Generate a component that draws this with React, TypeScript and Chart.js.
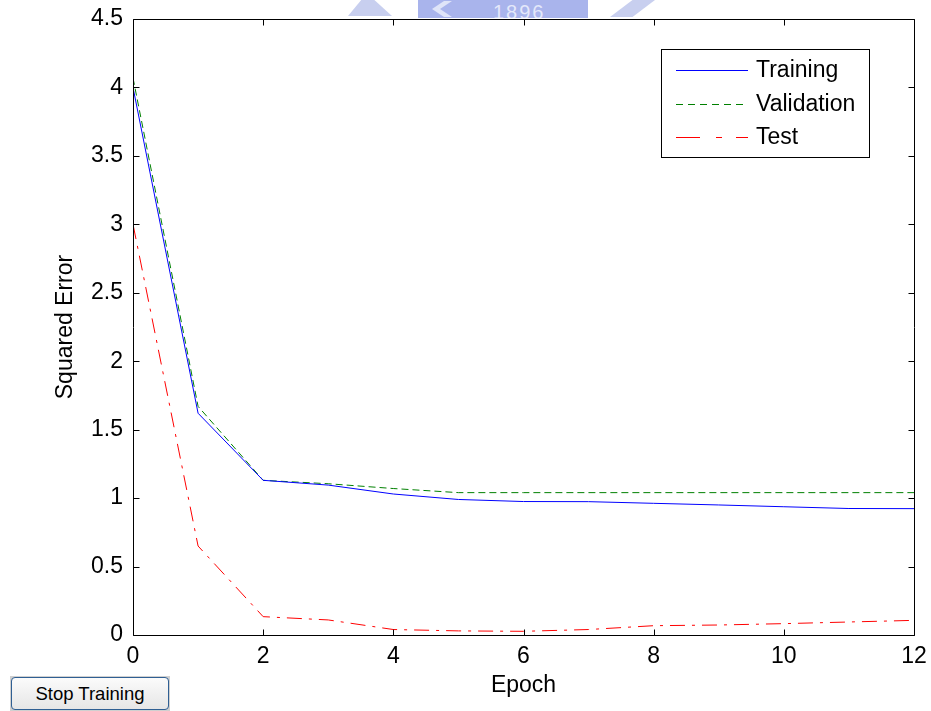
import React, { useEffect, useRef } from "react";
import { Chart, registerables } from "chart.js";

Chart.register(...registerables);

const epochs = [0, 1, 2, 3, 4, 5, 6, 7, 8, 9, 10, 11, 12];
const training = [4.0, 1.62, 1.13, 1.095, 1.03, 0.99, 0.975, 0.974, 0.962, 0.95, 0.937, 0.924, 0.923];
const validation = [4.07, 1.67, 1.13, 1.105, 1.07, 1.04, 1.04, 1.04, 1.04, 1.04, 1.04, 1.04, 1.04];
const test = [3.0, 0.65, 0.134, 0.11, 0.04, 0.03, 0.027, 0.04, 0.068, 0.073, 0.083, 0.095, 0.107];
const seriesLabels = ["Training", "Validation", "Test"];
const xTitle = "Epoch";
const yTitle = "Squared Error";
const buttonText = "Stop Training";
const watermarkText = "1896";

const FONT = "'Liberation Sans', Arial, Helvetica, sans-serif";

const boxPlugin = {
  id: "matlabBox",
  afterDatasetsDraw(chart: any) {
    const { ctx, chartArea } = chart;
    const { left, right, top, bottom } = chartArea;
    const xs = chart.scales.x;
    const ys = chart.scales.y;
    ctx.save();
    ctx.strokeStyle = "#000";
    ctx.lineWidth = 1;
    ctx.setLineDash([]);
    const L = Math.round(left) + 0.5;
    const R = Math.round(right) + 0.5;
    const T = Math.round(top) + 0.5;
    const B = Math.round(bottom) + 0.5;
    ctx.beginPath();
    ctx.rect(L, T, R - L, B - T);
    ctx.stroke();
    const tl = 6;
    ctx.beginPath();
    xs.ticks.forEach((t: any) => {
      const x = Math.round(xs.getPixelForValue(t.value)) + 0.5;
      ctx.moveTo(x, B);
      ctx.lineTo(x, B - tl);
      ctx.moveTo(x, T);
      ctx.lineTo(x, T + tl);
    });
    ys.ticks.forEach((t: any) => {
      const y = Math.round(ys.getPixelForValue(t.value)) + 0.5;
      ctx.moveTo(L, y);
      ctx.lineTo(L + tl, y);
      ctx.moveTo(R, y);
      ctx.lineTo(R - tl, y);
    });
    ctx.stroke();

    // legend
    const lx = 661.5, ly = 49.5, lw = 208, lh = 108;
    ctx.fillStyle = "#fff";
    ctx.fillRect(lx, ly, lw, lh);
    ctx.strokeStyle = "#000";
    ctx.lineWidth = 1;
    ctx.strokeRect(lx, ly, lw, lh);
    const rows = [70, 103.5, 137];
    chart.data.datasets.forEach((ds: any, i: number) => {
      const y = Math.round(rows[i]) + 0.5;
      ctx.strokeStyle = ds.borderColor;
      ctx.lineWidth = 1;
      ctx.setLineDash(ds.legendDash || []);
      ctx.beginPath();
      ctx.moveTo(676, y);
      ctx.lineTo(748, y);
      ctx.stroke();
      ctx.setLineDash([]);
      ctx.fillStyle = "#000";
      ctx.font = "23px " + FONT;
      ctx.textAlign = "left";
      ctx.textBaseline = "middle";
      ctx.fillText(ds.label, 756, rows[i] + 1);
    });
    ctx.restore();
  },
};

export default function App() {
  const ref = useRef<HTMLCanvasElement | null>(null);
  useEffect(() => {
    document.body.style.margin = "0";
    const mk = (ys: number[]) => epochs.map((e, i) => ({ x: e, y: ys[i] }));
    const chart = new Chart(ref.current as HTMLCanvasElement, {
      type: "line",
      data: {
        datasets: [
          {
            label: seriesLabels[0],
            data: mk(training),
            borderColor: "#0000ff",
            borderWidth: 1,
            pointRadius: 0,
            tension: 0,
            fill: false,
            legendDash: [],
          } as any,
          {
            label: seriesLabels[1],
            data: mk(validation),
            borderColor: "#008000",
            borderWidth: 1,
            borderDash: [7, 4],
            pointRadius: 0,
            tension: 0,
            fill: false,
            legendDash: [7, 5],
          } as any,
          {
            label: seriesLabels[2],
            data: mk(test),
            borderColor: "#ff0000",
            borderWidth: 1,
            borderDash: [15, 7, 3, 7],
            pointRadius: 0,
            tension: 0,
            fill: false,
            legendDash: [24, 16, 6, 14],
          } as any,
        ],
      },
      options: {
        animation: false,
        responsive: false,
        maintainAspectRatio: false,
        layout: { padding: { top: 19, right: 17, left: 0, bottom: 0 } },
        plugins: { legend: { display: false }, tooltip: { enabled: false } },
        scales: {
          x: {
            type: "linear",
            min: 0,
            max: 12,
            grid: { display: false, drawTicks: false },
            border: { display: false },
            ticks: {
              stepSize: 2,
              padding: 8,
              color: "#000",
              font: { family: FONT, size: 23 },
              maxRotation: 0,
            },
            title: {
              display: true,
              text: xTitle,
              color: "#000",
              font: { family: FONT, size: 23 },
              padding: { top: 0, bottom: 12 },
            },
            afterFit: (s: any) => {
              s.height = 76;
              s.paddingLeft = 0;
              s.paddingRight = 0;
            },
          },
          y: {
            type: "linear",
            min: 0,
            max: 4.5,
            grid: { display: false, drawTicks: false },
            border: { display: false },
            ticks: {
              stepSize: 0.5,
              padding: 10,
              color: "#000",
              font: { family: FONT, size: 23 },
              callback: (v: any) => String(Math.round(Number(v) * 10) / 10),
            },
            title: {
              display: true,
              text: yTitle,
              color: "#000",
              font: { family: FONT, size: 23 },
              padding: { top: 52, bottom: 0 },
            },
            afterFit: (s: any) => {
              s.width = 133;
              s.paddingTop = 0;
              s.paddingBottom = 0;
            },
          },
        },
      } as any,
      plugins: [boxPlugin],
    });
    return () => chart.destroy();
  }, []);

  return (
    <div style={{ position: "relative", width: 931, height: 711, background: "#fff", overflow: "hidden" }}>
      <div style={{ position: "absolute", left: 0, top: 0, width: 931, height: 18, overflow: "hidden" }}>
        <div style={{ position: "absolute", left: 348, top: 0, width: 44, height: 16, background: "#c8cfef", clipPath: "polygon(30% 0, 60% 0, 100% 100%, 0 100%)" }} />
        <div style={{ position: "absolute", left: 418, top: 0, width: 170, height: 18, background: "#a9b4ec" }}>
          <div style={{ position: "absolute", left: 10, top: 1, width: 40, height: 16, background: "#dfe4f8", clipPath: "polygon(40% 0, 60% 0, 30% 50%, 60% 100%, 40% 100%, 10% 50%)" }} />
          <span style={{ position: "absolute", left: 75, top: 2, fontFamily: FONT, fontSize: 20, color: "#e4e8fa", letterSpacing: 2, lineHeight: "20px" }}>{watermarkText}</span>
        </div>
        <div style={{ position: "absolute", left: 610, top: 0, width: 45, height: 17, background: "#c8cfef", clipPath: "polygon(50% 0, 100% 0, 50% 100%, 0 100%)" }} />
      </div>
      <canvas ref={ref} width={931} height={711} style={{ position: "absolute", left: 0, top: 0, width: 931, height: 711 }} />
      <div
        style={{
          position: "absolute",
          left: 10,
          top: 676,
          width: 160,
          height: 35,
          background: "#d0d0d0",
          boxSizing: "border-box",
          padding: 1,
        }}
      >
        <div
          style={{
            width: "100%",
            height: "100%",
            boxSizing: "border-box",
            border: "1px solid #2f5f93",
            borderRadius: 4,
            background: "linear-gradient(#fbfbfb, #e6e6e6)",
            display: "flex",
            alignItems: "center",
            justifyContent: "center",
            fontFamily: FONT,
            fontSize: 18.5,
            color: "#000",
          }}
        >
          {buttonText}
        </div>
      </div>
    </div>
  );
}
